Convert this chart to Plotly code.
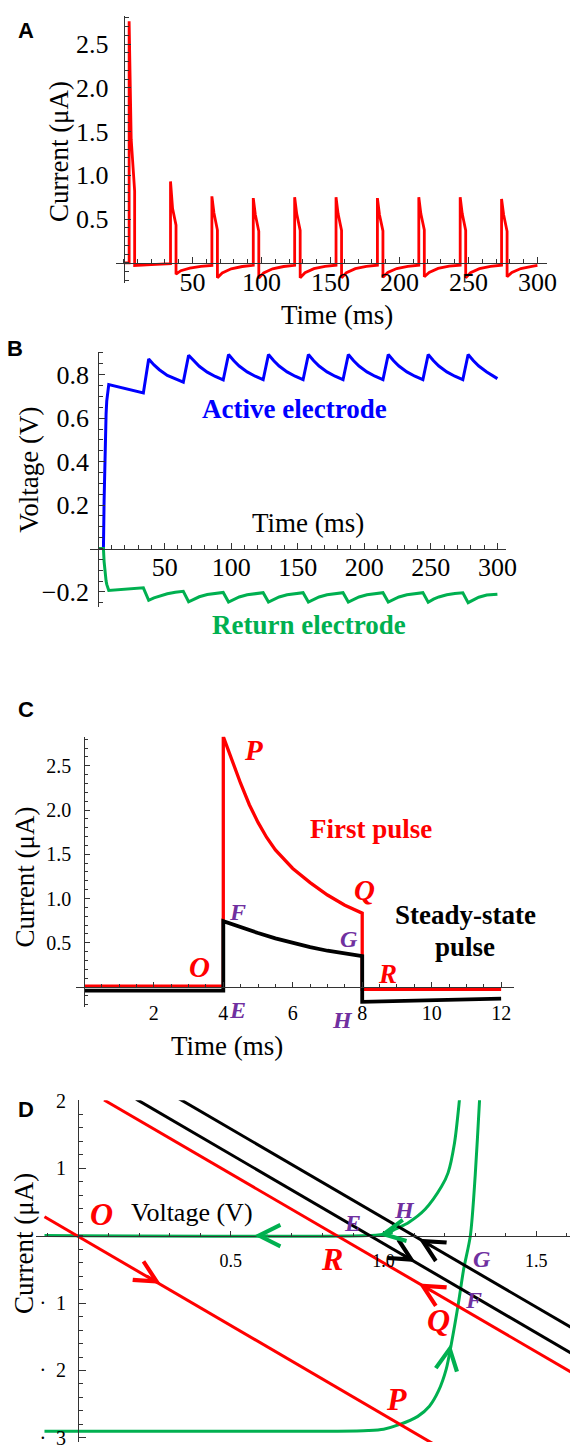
import plotly.graph_objects as go

W, H = 581, 1449
SERIF = "Liberation Serif, Times New Roman, serif"
SANS = "Liberation Sans, Arial, sans-serif"
RED = "#FF0000"
BLUE = "#0000FF"
GREEN = "#00B050"
PURPLE = "#7030A0"
BLACK = "#000000"
AXC = "#333333"

# ---------------- Panel A: current during the first 300 ms ----------------
a_time = [0, 4, 4, 5.5, 8, 8, 20, 34,
          34, 35.5, 38, 38, 41.5, 48, 56, 64,
          64, 65.5, 68, 68, 71.5, 78, 86, 94,
          94, 95.5, 98, 98, 101.5, 108, 116, 124,
          124, 125.5, 128, 128, 131.5, 138, 146, 154,
          154, 155.5, 158, 158, 161.5, 168, 176, 184,
          184, 185.5, 188, 188, 191.5, 198, 206, 214,
          214, 215.5, 218, 218, 221.5, 228, 236, 244,
          244, 245.5, 248, 248, 251.5, 258, 266, 274,
          274, 275.5, 278, 278, 281.5, 288, 296, 300]
a_current = [0.0, 0.0, 2.76, 1.41, 0.82, -0.03, -0.02, -0.01,
             0.93, 0.62, 0.43, -0.13, -0.09, -0.06, -0.04, -0.03,
             0.76, 0.57, 0.375, -0.17, -0.115, -0.068, -0.042, -0.028,
             0.74, 0.55, 0.36, -0.175, -0.115, -0.068, -0.042, -0.028,
             0.75, 0.56, 0.37, -0.17, -0.113, -0.066, -0.04, -0.027,
             0.75, 0.56, 0.37, -0.17, -0.113, -0.066, -0.04, -0.027,
             0.74, 0.55, 0.365, -0.165, -0.11, -0.065, -0.04, -0.027,
             0.75, 0.56, 0.375, -0.16, -0.11, -0.064, -0.038, -0.026,
             0.75, 0.56, 0.37, -0.17, -0.113, -0.066, -0.04, -0.027,
             0.73, 0.55, 0.36, -0.16, -0.11, -0.065, -0.04, -0.03]
a_xticks = [50, 100, 150, 200, 250, 300]
a_xticktext = ["50", "100", "150", "200", "250", "300"]
a_yticks = [0.5, 1.0, 1.5, 2.0, 2.5]
a_yticktext = ["0.5", "1.0", "1.5", "2.0", "2.5"]

# ---------------- Panel B: electrode voltages ----------------
b_time = [0, 4, 4.5, 5, 5.5, 6, 6.5, 7, 8, 34,
          38, 42, 46, 52, 58, 64,
          68, 72, 76, 82, 88, 94,
          98, 102, 106, 112, 118, 124,
          128, 132, 136, 142, 148, 154,
          158, 162, 166, 172, 178, 184,
          188, 192, 196, 202, 208, 214,
          218, 222, 226, 232, 238, 244,
          248, 252, 256, 262, 268, 274,
          278, 282, 286, 292, 300]
b_active = [0, 0, 0.22, 0.40, 0.53, 0.62, 0.68, 0.72, 0.755, 0.716,
            0.872, 0.845, 0.823, 0.797, 0.780, 0.766,
            0.890, 0.862, 0.839, 0.812, 0.792, 0.776,
            0.893, 0.864, 0.840, 0.813, 0.793, 0.777,
            0.893, 0.864, 0.840, 0.813, 0.793, 0.777,
            0.893, 0.864, 0.840, 0.813, 0.793, 0.777,
            0.893, 0.864, 0.840, 0.813, 0.793, 0.777,
            0.893, 0.864, 0.840, 0.813, 0.793, 0.777,
            0.893, 0.864, 0.840, 0.813, 0.793, 0.777,
            0.893, 0.864, 0.840, 0.813, 0.782]
b_return = [0, 0, -0.06, -0.10, -0.13, -0.15, -0.165, -0.177, -0.193, -0.181,
            -0.238, -0.227, -0.218, -0.208, -0.201, -0.197,
            -0.245, -0.232, -0.222, -0.212, -0.206, -0.202,
            -0.246, -0.233, -0.223, -0.213, -0.207, -0.203,
            -0.246, -0.233, -0.223, -0.213, -0.207, -0.203,
            -0.246, -0.233, -0.223, -0.213, -0.207, -0.203,
            -0.246, -0.233, -0.223, -0.213, -0.207, -0.203,
            -0.246, -0.233, -0.223, -0.213, -0.207, -0.203,
            -0.247, -0.233, -0.223, -0.213, -0.207, -0.204,
            -0.249, -0.235, -0.224, -0.214, -0.210]
b_xticks = [50, 100, 150, 200, 250, 300]
b_xticktext = ["50", "100", "150", "200", "250", "300"]
b_yticks = [-0.2, 0.2, 0.4, 0.6, 0.8]
b_yticktext = ["\u22120.2", "0.2", "0.4", "0.6", "0.8"]

# ---------------- Panel C: first pulse vs steady-state pulse ----------------
c_time_first = [0, 4, 4, 4.25, 4.5, 4.75, 5.0, 5.25, 5.5, 6.0, 6.5, 7.0, 7.5, 8.0, 8.0, 12]
c_current_first = [0.01, 0.01, 2.83, 2.56, 2.30, 2.06, 1.86, 1.69, 1.55, 1.34, 1.18, 1.04, 0.925, 0.835, -0.027, -0.027]
c_time_steady = [0, 4, 4, 4.5, 5.0, 5.5, 6.0, 6.5, 7.0, 7.5, 8.0, 8.0, 10, 12]
c_current_steady = [-0.04, -0.04, 0.745, 0.675, 0.61, 0.55, 0.497, 0.45, 0.41, 0.375, 0.35, -0.168, -0.15, -0.13]
c_xticks = [2, 4, 6, 8, 10, 12]
c_xticktext = ["2", "4", "6", "8", "10", "12"]
c_yticks = [0.5, 1.0, 1.5, 2.0, 2.5]
c_yticktext = ["0.5", "1.0", "1.5", "2.0", "2.5"]

# ---------------- Panel D: current-voltage plane ----------------
d_load_first_v = [-0.11, 1.16]
d_load_first_i = [0.28, -3.08]
d_load_return_v = [0.085, 1.65]
d_load_return_i = [2.01, -2.12]
d_ss_lower_v = [0.19, 1.65]
d_ss_lower_i = [2.023, -1.838]
d_ss_upper_v = [0.33, 1.65]
d_ss_upper_i = [2.03, -1.457]
d_iv_upper_v = [-0.11, 0.95, 1.007, 1.04, 1.082, 1.136, 1.19, 1.211, 1.232, 1.248, 1.26]
d_iv_upper_i = [0.0, 0.0, 0.024, 0.098, 0.195, 0.39, 0.73, 0.93, 1.37, 2.0, 2.6]
d_iv_lower_v = [-0.11, 0.85, 0.95, 1.0, 1.053, 1.112, 1.15, 1.18, 1.205, 1.222, 1.245, 1.262, 1.284, 1.30, 1.314, 1.322]
d_iv_lower_i = [-2.9, -2.9, -2.89, -2.87, -2.80, -2.68, -2.53, -2.30, -1.98, -1.60, -1.0, -0.5, 0.0, 0.9, 2.0, 2.6]
d_xticks = [0.5, 1.0, 1.5]
d_xticktext = ["0.5", "1.0", "1.5"]
d_yticks = [2, 1, -1, -2, -3]
d_yticktext = ["2", "1", "\u00b7\u00a0\u00a01", "\u00b7\u00a0\u00a02", "\u00b7\u00a0\u00a03"]

# direction arrows in panel D: (tip V, tip I, tail V, tail I, colour)
d_arrows = [
    (0.27, -0.714, 0.22, -0.582, RED),
    (1.115, -0.71, 1.165, -0.842, RED),
    (1.104, -0.39, 1.054, -0.258, BLACK),
    (1.115, -0.045, 1.165, -0.177, BLACK),
    (0.577, 0.0, 0.627, 0.0, GREEN),
    (0.985, 0.01, 1.035, 0.05, GREEN),
    (1.259, -0.54, 1.254, -0.68, GREEN),
    (1.219, -1.61, 1.213, -1.78, GREEN),
]

# ---------------- layout geometry (pixels) ----------------
PANELS = {
    1: dict(xpx=(118, 558), x0=126, xs=1.406, ypx=(5, 275), y0=255, ys=88.6),
    2: dict(xpx=(92, 516), x0=100, xs=1.3567, ypx=(345, 603.3), y0=544.3, ys=220.0),
    3: dict(xpx=(77, 524), x0=86, xs=35.4, ypx=(735, 1008.3), y0=988.3, ys=89.6),
    4: dict(xpx=(36.7, 581), x0=79.6, xs=311.4, ypx=(1103, 1449), y0=1240, ys=68.3),
}


def px(x, y):
    return x / W, 1 - y / H


def axes_for(n, xt, xtt, xminor, yt, ytt, yminor, fsx, fsy, xstand, ystand,
             xlen, xmlen, ylen, ymlen):
    c = PANELS[n]
    xr = [(c['xpx'][0] - c['x0']) / c['xs'], (c['xpx'][1] - c['x0']) / c['xs']]
    yr = [(c['y0'] - c['ypx'][1]) / c['ys'], (c['y0'] - c['ypx'][0]) / c['ys']]
    common = dict(showline=True, linecolor=AXC, linewidth=1, ticks='inside',
                  tickwidth=1, tickcolor=AXC, tickmode='array', showgrid=False,
                  zeroline=False, anchor='free', ticklabeloverflow='allow')
    xa = dict(common, domain=[c['xpx'][0] / W, c['xpx'][1] / W], range=xr,
              position=1 - c['y0'] / H, tickvals=xt, ticktext=xtt, ticklen=xlen,
              tickfont=dict(family=SERIF, size=fsx, color='black'),
              ticklabelstandoff=xstand,
              minor=dict(ticks='inside', ticklen=xmlen, tickwidth=1, tickcolor=AXC,
                         tickmode='linear', tick0=0, dtick=xminor, showgrid=False))
    ya = dict(common, domain=[1 - c['ypx'][1] / H, 1 - c['ypx'][0] / H], range=yr,
              position=c['x0'] / W, tickvals=yt, ticktext=ytt, ticklen=ylen,
              tickfont=dict(family=SERIF, size=fsy, color='black'),
              ticklabelstandoff=ystand,
              minor=dict(ticks='inside', ticklen=ymlen, tickwidth=1, tickcolor=AXC,
                         tickmode='linear', tick0=0, dtick=yminor, showgrid=False))
    return xa, ya


fig = go.Figure()


def line(x, y, n, color, width, shape='linear'):
    ax = '' if n == 1 else str(n)
    fig.add_trace(go.Scatter(x=x, y=y, mode='lines', xaxis='x' + ax, yaxis='y' + ax,
                             line=dict(color=color, width=width, shape=shape, smoothing=0.8),
                             hoverinfo='skip', showlegend=False))


# Panel A
line(a_time, a_current, 1, RED, 2.8)
# Panel B
line(b_time, b_active, 2, BLUE, 3)
line(b_time, b_return, 2, GREEN, 3)
# Panel C
line(c_time_first, c_current_first, 3, RED, 3.3)
line(c_time_steady, c_current_steady, 3, BLACK, 3.8)
# Panel D
line(d_iv_upper_v, d_iv_upper_i, 4, GREEN, 3, 'spline')
line(d_iv_lower_v, d_iv_lower_i, 4, GREEN, 3, 'spline')
line(d_ss_lower_v, d_ss_lower_i, 4, BLACK, 3)
line(d_ss_upper_v, d_ss_upper_i, 4, BLACK, 3)
line(d_load_first_v, d_load_first_i, 4, RED, 3)
line(d_load_return_v, d_load_return_i, 4, RED, 3)

xa1, ya1 = axes_for(1, a_xticks, a_xticktext, 10, a_yticks, a_yticktext, 0.1, 26, 26, -4, 10, 6, 4, 6, 4)
xa2, ya2 = axes_for(2, b_xticks, b_xticktext, 10, b_yticks, b_yticktext, 0.05, 26, 26, -5, 4, 6, 4, 6, 4)
xa3, ya3 = axes_for(3, c_xticks, c_xticktext, 0.5, c_yticks, c_yticktext, 0.1, 20, 20, 8, 9, 5, 3, 5, 3)
xa4, ya4 = axes_for(4, d_xticks, d_xticktext, 0.1, d_yticks, d_yticktext, 0.2, 18, 20, 9, 8, 5, 3, 7, 4)

annotations = []


def text(x, y, s, size, color='black', family=SERIF, angle=0):
    xx, yy = px(x, y)
    annotations.append(dict(x=xx, y=yy, xref='paper', yref='paper', text=s, showarrow=False,
                            font=dict(family=family, size=size, color=color),
                            xanchor='center', yanchor='middle', textangle=angle))


# panel letters
text(27, 20, "<b>A</b>", 22, family=SANS)
text(15, 342, "<b>B</b>", 22, family=SANS)
text(26, 707, "<b>C</b>", 22, family=SANS)
text(27, 1112, "<b>D</b>", 22, family=SANS)

# Panel A titles
text(60, 142, "Current (\u03bcA)", 27, angle=-90)
text(343, 308, "Time (ms)", 27)
# Panel B titles
text(30, 464, "Voltage (V)", 27, angle=-90)
text(314, 518, "Time (ms)", 27)
text(300, 403, "<b>Active electrode</b>", 27, BLUE)
text(315, 622, "<b>Return electrode</b>", 27, GREEN)
# Panel C titles
text(26, 877, "Current (\u03bcA)", 27, angle=-90)
text(231, 1048, "Time (ms)", 27)
text(378, 828, "<b>First pulse</b>", 27, RED)
text(474, 915, "<b>Steady-state</b>", 27)
text(474, 948, "<b>pulse</b>", 27)
for lab, x, y, col, sz in [("P", 258, 748, RED, 29), ("Q", 372, 890, RED, 29),
                           ("O", 203, 968, RED, 29), ("R", 395, 975, RED, 27),
                           ("F", 242, 912, PURPLE, 24), ("G", 356, 940, PURPLE, 24),
                           ("E", 242, 1012, PURPLE, 24), ("H", 349, 1022, PURPLE, 24)]:
    text(x, y, "<b><i>%s</i></b>" % lab, sz, col)
# Panel D titles
text(25, 1248, "Current (\u03bcA)", 27, angle=-90)
text(196, 1217, "Voltage (V)", 26)
for lab, x, y, col, sz in [("O", 103, 1218, RED, 32), ("R", 338, 1264, RED, 32),
                           ("Q", 447, 1325, RED, 32), ("P", 404, 1405, RED, 32),
                           ("E", 359, 1227, PURPLE, 24), ("H", 412, 1214, PURPLE, 24),
                           ("G", 491, 1264, PURPLE, 24), ("F", 483, 1305, PURPLE, 24)]:
    text(x, y, "<b><i>%s</i></b>" % lab, sz, col)

for tv, ti, av, ai, col in d_arrows:
    annotations.append(dict(x=tv, y=ti, ax=av, ay=ai, xref='x4', yref='y4', axref='x4', ayref='y4',
                            text='', showarrow=True, arrowhead=5, arrowsize=1.75, arrowwidth=2.4,
                            arrowcolor=col, standoff=0, startstandoff=0))

fig.update_layout(
    width=W, height=H, margin=dict(l=0, r=0, t=0, b=0),
    paper_bgcolor='white', plot_bgcolor='white', showlegend=False,
    xaxis=xa1, yaxis=ya1, xaxis2=xa2, yaxis2=ya2,
    xaxis3=xa3, yaxis3=ya3, xaxis4=xa4, yaxis4=ya4,
    annotations=annotations,
)

fig.write_html("out.html", config={'displayModeBar': False},
               post_script="document.body.style.margin='0';document.body.style.overflow='hidden';")
